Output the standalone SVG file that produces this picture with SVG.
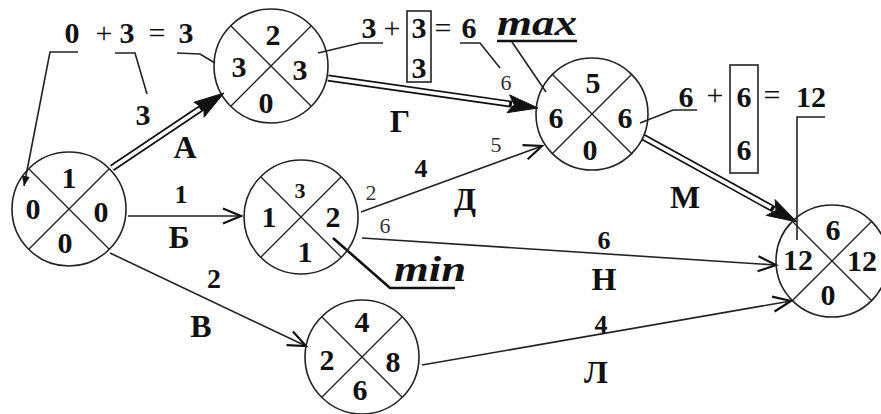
<svg xmlns="http://www.w3.org/2000/svg" width="881" height="414" viewBox="0 0 881 414">
<style>
.c{fill:none;stroke:#222;stroke-width:1.6}
.x{stroke:#222;stroke-width:1.4}
.t{font-family:"Liberation Serif","Times New Roman",serif;font-weight:bold;fill:#111;text-anchor:middle;font-size:30px}
.s{font-size:22px}
.l{font-size:32px}
.n{font-weight:normal}
.sm{font-family:"Liberation Serif","Times New Roman",serif;font-weight:normal;fill:#333;text-anchor:middle;font-size:22px}
.it{font-style:italic;font-size:36px}
.ln{fill:none;stroke:#222;stroke-width:1.6}
.th{fill:none;stroke:#111;stroke-width:2.6}
.dbB{fill:none;stroke:#111;stroke-width:7}
.dbW{fill:none;stroke:#fff;stroke-width:3.6}
.ah{fill:#111;stroke:#111;stroke-width:1}
</style>
<defs>
<marker id="open" markerUnits="userSpaceOnUse" markerWidth="24" markerHeight="20" viewBox="-20 -10 24 20" refX="0" refY="0" orient="auto">
<path d="M-18,-7.5 L0,0 L-18,7.5" fill="none" stroke="#111" stroke-width="2.2"/>
</marker>
<marker id="tick" markerUnits="userSpaceOnUse" markerWidth="14" markerHeight="12" viewBox="-12 -6 14 12" refX="0" refY="0" orient="auto">
<path d="M-10,-4 L0,0 L-10,4 z" fill="#111"/>
</marker>
</defs>
<rect width="881" height="414" fill="#fff"/>

<g id="connectors">
<path class="dbB" d="M112,168 L203,107"/>
<path class="dbW" d="M112,168 L200,109"/>
<polygon class="ah" points="224,93 204.1,117.2 204,108.8 194.1,102.2"/>
<path class="dbB" d="M328,78 L512,104.3"/>
<path class="dbW" d="M328,78 L509,103.8"/>
<polygon class="ah" points="538,108 507,112.7 514.2,104.6 509.6,94.9"/>
<path class="dbB" d="M643,137 L774,209.3"/>
<path class="dbW" d="M643,137 L771,207.7"/>
<polygon class="ah" points="797,222 766.4,215.4 776,210.4 775.1,199.6"/>
<path class="ln" d="M128,216 L241,216" marker-end="url(#open)"/>
<path class="ln" d="M110,253 L306,346" marker-end="url(#open)"/>
<path class="ln" d="M361,212 L542,146" marker-end="url(#open)"/>
<path class="ln" d="M362,238 L776,265" marker-end="url(#open)"/>
<path class="ln" d="M422,365 L791,301" marker-end="url(#open)"/>
</g>

<g id="annotations">
<text class="t" x="72" y="43">0</text>
<text class="t n" x="104" y="43">+</text>
<text class="t" x="127" y="43">3</text>
<text class="t n" x="157" y="43">=</text>
<text class="t" x="186" y="43">3</text>
<path class="ln" d="M78,52 L50,52 L24,186" marker-end="url(#tick)"/>
<path class="ln" d="M115,53 L135,53 L147,94"/>
<text class="t" x="143" y="125">3</text>
<path class="ln" d="M177,53 L200,54 L215,63"/>
<path class="ln" d="M318,53 L360,43 L383,43"/>
<text class="t" x="369" y="38">3</text>
<text class="t n" x="392" y="38">+</text>
<rect x="407" y="11" width="24" height="71" fill="none" stroke="#222" stroke-width="1.6"/>
<text class="t" x="419" y="38">3</text>
<text class="t" x="419" y="78">3</text>
<text class="t n" x="443" y="38">=</text>
<text class="t" x="469" y="38">6</text>
<path class="ln" d="M460,43 L480,43 L500,68"/>
<text class="sm" x="506" y="90">6</text>
<text class="t it" x="537" y="35" textLength="80" lengthAdjust="spacingAndGlyphs">max</text>
<path class="th" d="M497,41 L577,41"/>
<path class="ln" d="M512,42 L546,92"/>
<path class="ln" d="M640,123 L673,110 L697,110"/>
<text class="t" x="686" y="107">6</text>
<text class="t n" x="715" y="105">+</text>
<rect x="730" y="65" width="28" height="108" fill="none" stroke="#222" stroke-width="1.6"/>
<text class="t" x="744" y="107">6</text>
<text class="t" x="744" y="160">6</text>
<text class="t n" x="772" y="105">=</text>
<text class="t" x="811" y="107">12</text>
<path class="ln" d="M825,117 L797,117 L797,240"/>
<path class="th" d="M333,238 L390,288 L455,288"/>
<text class="t it" x="430" y="281" textLength="72" lengthAdjust="spacingAndGlyphs">min</text>
<text class="t l" x="185" y="158">А</text>
<text class="t" x="181" y="203" style="font-size:26px">1</text>
<text class="t l" x="179" y="248">Б</text>
<text class="t" x="214" y="288" style="font-size:28px">2</text>
<text class="t l" x="201" y="337">В</text>
<text class="t l" x="400" y="132">Г</text>
<text class="sm" x="371" y="200">2</text>
<text class="t" x="421" y="177" style="font-size:26px">4</text>
<text class="t l" x="465" y="210">Д</text>
<text class="sm" x="496" y="152">5</text>
<text class="sm" x="385" y="233">6</text>
<text class="t" x="604" y="249" style="font-size:26px">6</text>
<text class="t l" x="604" y="290">Н</text>
<text class="t" x="601" y="333" style="font-size:26px">4</text>
<text class="t l" x="596" y="383">Л</text>
<text class="t l" x="685" y="208">М</text>
</g>

<g id="node-1">
<circle class="c" cx="69" cy="209" r="57"/>
<path class="x" d="M29,169 L109,249 M109,169 L29,249"/>
<text class="t" x="69" y="188">1</text>
<text class="t" x="33" y="219">0</text>
<text class="t" x="101" y="222">0</text>
<text class="t" x="65" y="253">0</text>
</g>
<g id="node-2">
<circle class="c" cx="271" cy="66" r="57"/>
<path class="x" d="M231,26 L311,106 M311,26 L231,106"/>
<text class="t" x="273" y="45">2</text>
<text class="t" x="239" y="77">3</text>
<text class="t" x="300" y="80">3</text>
<text class="t" x="266" y="113">0</text>
</g>
<g id="node-3">
<circle class="c" cx="592" cy="114" r="56"/>
<path class="x" d="M552,74 L632,154 M632,74 L552,154"/>
<text class="t" x="593" y="93">5</text>
<text class="t" x="556" y="128">6</text>
<text class="t" x="625" y="128">6</text>
<text class="t" x="590" y="160">0</text>
</g>
<g id="node-4">
<circle class="c" cx="301" cy="217" r="57"/>
<path class="x" d="M261,177 L341,257 M341,177 L261,257"/>
<text class="t s" x="300" y="198">3</text>
<text class="t" x="269" y="227">1</text>
<text class="t" x="333" y="227">2</text>
<text class="t" x="305" y="262">1</text>
</g>
<g id="node-5">
<circle class="c" cx="362" cy="357" r="57"/>
<path class="x" d="M322,317 L402,397 M402,317 L322,397"/>
<text class="t" x="362" y="332">4</text>
<text class="t" x="327" y="370">2</text>
<text class="t" x="393" y="372">8</text>
<text class="t" x="360" y="400">6</text>
</g>
<g id="node-6">
<circle class="c" cx="832" cy="261" r="56"/>
<path class="x" d="M792,221 L872,301 M872,221 L792,301"/>
<text class="t" x="833" y="240">6</text>
<text class="t" x="798" y="270">12</text>
<text class="t" x="862" y="271">12</text>
<text class="t" x="828" y="305">0</text>
</g>
</svg>
